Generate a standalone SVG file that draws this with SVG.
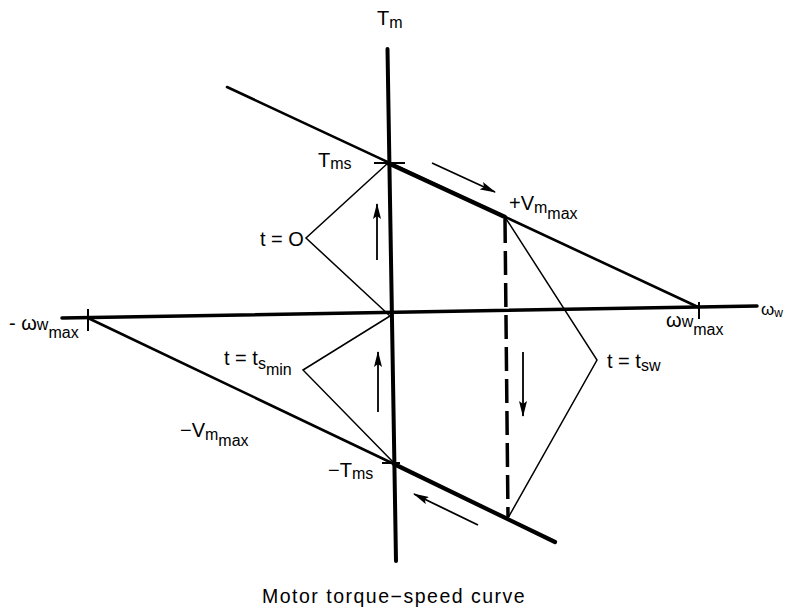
<svg xmlns="http://www.w3.org/2000/svg" width="786" height="609" viewBox="0 0 786 609">
<style>
  .lbl { font-family: "Liberation Sans", Arial, sans-serif; fill: #000; font-size: 20px; }
  .sub { font-size: 16px; }
  .title { font-family: "Liberation Sans", Arial, sans-serif; font-size: 19.5px; letter-spacing: 1.5px; fill: #000; }
  .axis { stroke: #000; stroke-width: 3.5; fill: none; stroke-linecap: round; }
  .curve { stroke: #000; stroke-width: 2.6; fill: none; stroke-linecap: round; }
  .thick { stroke: #000; stroke-width: 4.5; fill: none; stroke-linecap: round; }
  .thin { stroke: #000; stroke-width: 1.5; fill: none; }
  .dash { stroke: #000; stroke-width: 3.5; fill: none; stroke-dasharray: 24 8; }
  .arr { stroke: #000; stroke-width: 1.8; fill: none; marker-end: url(#ah); }
  .tick { stroke: #000; stroke-width: 2; fill: none; }
</style>
<defs>
  <marker id="ah" viewBox="0 0 16 8" refX="15" refY="4" markerWidth="16" markerHeight="8" markerUnits="userSpaceOnUse" orient="auto">
    <path d="M0,0 L16,4 L0,8 L3,4 Z" fill="#000"/>
  </marker>
</defs>
<rect width="786" height="609" fill="#fff"/>

<g id="axes">
  <line class="axis" x1="387.5" y1="49" x2="396" y2="561" style="stroke-width:4"/>
  <line class="axis" x1="62" y1="318" x2="757" y2="306"/>
  <line class="tick" x1="88" y1="309" x2="88" y2="331"/>
  <line class="tick" x1="699" y1="302" x2="699" y2="319"/>
  <line class="tick" x1="374" y1="163" x2="405" y2="163"/>
  <line class="tick" x1="382" y1="463" x2="400" y2="463"/>
</g>

<g id="connectors">
  <line class="curve" x1="227" y1="87" x2="698" y2="307"/>
  <line class="thick" x1="388" y1="163" x2="505" y2="217"/>
  <line class="curve" x1="88" y1="318" x2="394" y2="464"/>
  <line class="thick" x1="394" y1="464" x2="555" y2="542" style="stroke-width:4.2"/>
  <line class="dash" x1="505" y1="219" x2="508" y2="517"/>
  <polyline class="thin" points="388,163 306,238 390,316"/>
  <polyline class="thin" points="390,316 303,370 394,463"/>
  <polyline class="thin" points="505,217 597,360 508,518"/>
  <line class="arr" x1="432" y1="163" x2="495" y2="192"/>
  <line class="arr" x1="377" y1="260" x2="377" y2="204"/>
  <line class="arr" x1="378" y1="412" x2="378" y2="352"/>
  <line class="arr" x1="523" y1="352" x2="523" y2="416"/>
  <line class="arr" x1="478" y1="525" x2="414" y2="494"/>
</g>

<g id="label-Tm"><text class="lbl" x="377" y="25">T<tspan class="sub" dy="3">m</tspan></text></g>
<g id="label-Tms"><text class="lbl" x="318" y="167">T<tspan class="sub" dy="2">ms</tspan></text></g>
<g id="label-negTms"><text class="lbl" x="328" y="477">−T<tspan class="sub" dy="2">ms</tspan></text></g>
<g id="label-Vmax"><text class="lbl" x="509" y="210">+V<tspan class="sub" dy="3">m</tspan><tspan class="sub" dy="6">max</tspan></text></g>
<g id="label-negVmax"><text class="lbl" x="180" y="437">−V<tspan class="sub" dy="3">m</tspan><tspan class="sub" dy="6">max</tspan></text></g>
<g id="label-wmax"><text class="lbl" x="666" y="327">ω<tspan class="sub" dy="0">w</tspan><tspan class="sub" dy="8">max</tspan></text></g>
<g id="label-negwmax"><text class="lbl" x="9" y="330">- ω<tspan class="sub" dy="0">w</tspan><tspan class="sub" dy="8">max</tspan></text></g>
<g id="label-ww"><text class="lbl" x="761" y="315" style="font-size:17px">ω<tspan style="font-size:12px" dy="2">w</tspan></text></g>
<g id="label-t0"><text class="lbl" x="260" y="246">t = O</text></g>
<g id="label-tsmin"><text class="lbl" x="224" y="365">t = t<tspan class="sub" dy="4">s</tspan><tspan class="sub" dy="6">min</tspan></text></g>
<g id="label-tsw"><text class="lbl" x="607" y="368">t = t<tspan class="sub" dy="3">sw</tspan></text></g>
<g id="title"><text class="title" x="262" y="603">Motor torque−speed curve</text></g>
</svg>
